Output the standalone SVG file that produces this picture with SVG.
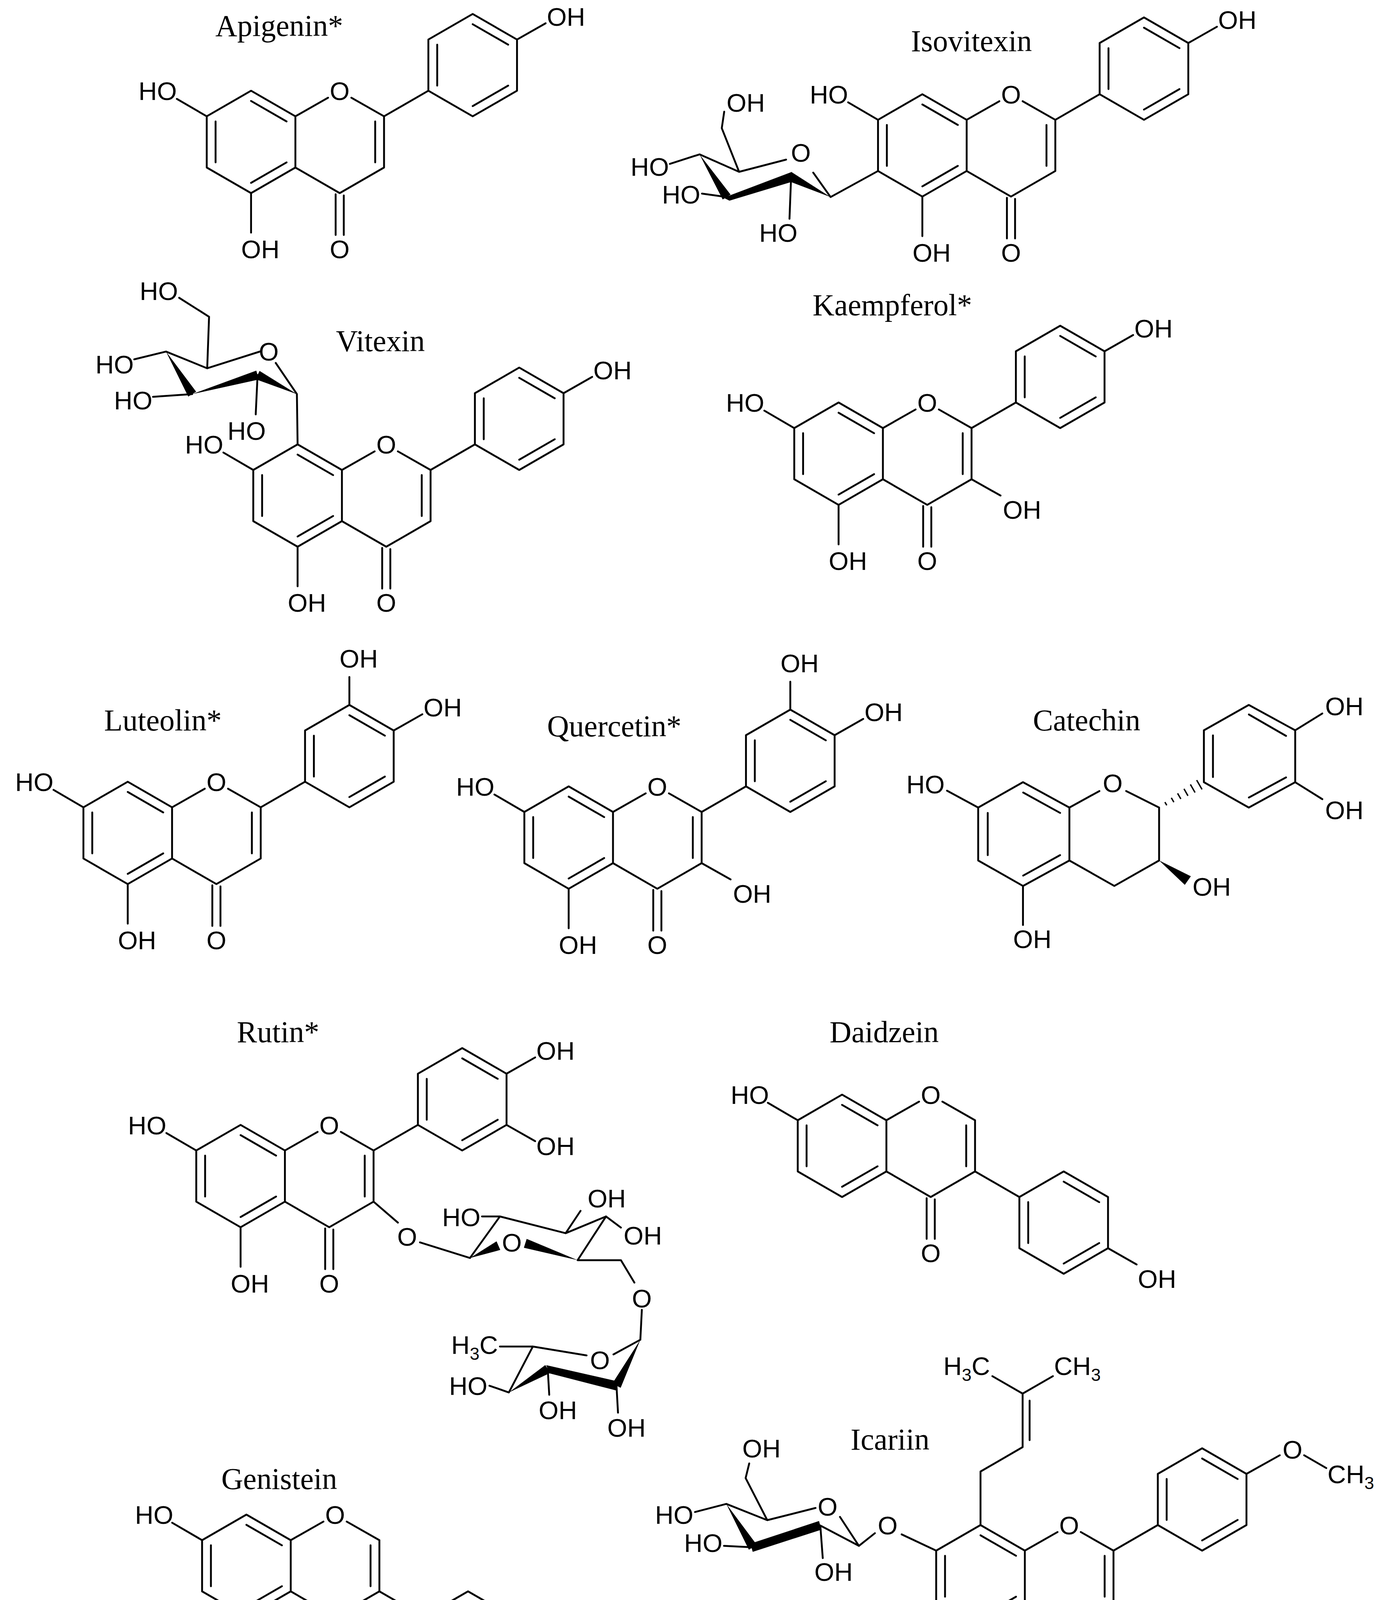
<svg xmlns="http://www.w3.org/2000/svg" xmlns:xlink="http://www.w3.org/1999/xlink" width="3535" height="4688" viewBox="0 0 3535 4688">
<style>
.b{fill:none;stroke:#000;stroke-width:1.6;stroke-linecap:round;stroke-linejoin:round}
.h{fill:none;stroke:#000;stroke-width:1.2}
.w{fill:#000;stroke:none}
.t{font-family:"Liberation Sans",Arial,sans-serif;font-size:22px;fill:#000}
.m{text-anchor:middle}
.e{text-anchor:end}
.ti{font-family:"Liberation Serif","Times New Roman",serif;font-size:26px;text-anchor:middle;fill:#000}
</style>
<defs>
<path id="core" class="b" d="M-76.2,-44 L-38.1,-22 L-38.1,22 L-76.2,44 L-114.3,22 L-114.3,-22 Z M-38.1,-22 L-10,-38 M10,-38 L38.1,-22 L38.1,22 L0,44 L-38.1,22 M-106.7,-17.6 L-106.7,17.6 M-76.2,-35.2 L-45.7,-17.6 M-45.7,17.6 L-76.2,35.2 M30.5,-17.6 L30.5,17.6 M-3.5,45 L-3.5,80 M3.5,46 L3.5,80"/>
<path id="bf" class="b" d="M38.1,-22 L76.2,-44 M114.3,-110 L152.4,-88 L152.4,-44 L114.3,-22 L76.2,-44 L76.2,-88 Z M83.8,-48.4 L83.8,-83.6 M114.3,-101.2 L144.8,-83.6 M144.8,-48.4 L114.3,-30.8"/>
<path id="bi" class="b" d="M38.1,22 L76.2,44 M114.3,22 L152.4,44 L152.4,88 L114.3,110 L76.2,88 L76.2,44 Z M114.3,30.8 L144.8,48.4 M144.8,83.6 L114.3,101.2 M83.8,83.6 L83.8,48.4"/>
<path id="s5" class="b" d="M-76.2,44 L-76.2,78"/>
<path id="s7" class="b" d="M-114.3,-22 L-140,-37"/>
<path id="s4p" class="b" d="M152.4,-88 L177,-102"/>
<path id="s3p" class="b" d="M114.3,-110 L114.3,-134"/>
<path id="s3" class="b" d="M38.1,22 L63,36"/>
<path id="slr" class="b" d="M152.4,-44 L177,-30"/>
<path id="si4" class="b" d="M152.4,88 L177,102"/>
</defs>
<rect width="3535" height="4688" fill="#fff"/>
<g transform="scale(2.978)">

<g id="apigenin">
<use href="#core" transform="translate(292,122)"/><use href="#bf" transform="translate(292,122)"/>
<use href="#s5" transform="translate(292,122)"/><use href="#s7" transform="translate(292,122)"/><use href="#s4p" transform="translate(292,122)"/>
<text class="ti" x="240" y="31">Apigenin*</text>
<text class="t m" x="292" y="86">O</text><text class="t m" x="292" y="222">O</text>
<text class="t" x="207.3" y="222">OH</text><text class="t e" x="152" y="86">HO</text><text class="t" x="470" y="22">OH</text>
</g>

<g id="isovitexin">
<use href="#core" transform="translate(869,125)"/><use href="#bf" transform="translate(869,125)"/>
<use href="#s5" transform="translate(869,125)"/><use href="#s7" transform="translate(869,125)"/><use href="#s4p" transform="translate(869,125)"/>
<text class="ti" x="835" y="44">Isovitexin</text>
<text class="t m" x="869" y="89">O</text><text class="t m" x="869" y="225">O</text>
<text class="t" x="784.3" y="225">OH</text><text class="t e" x="729" y="89">HO</text><text class="t" x="1047" y="25">OH</text>
<path class="b" d="M754.7,147 L713.9,169.4 L699,148.4 M675.7,137.2 L635.3,147.7 L620.4,110.2 L622.5,96 M635.3,147.7 L601.3,132.7 L575.8,140.9 M624.6,169.4 L603.4,166.4 M680,152.1 L678.6,188.1"/>
<polygon class="w" points="601.3,132.7 628,167.3 621.2,171.5"/>
<polygon class="w" points="622,170 680,148 680,156.5 627,172.5"/>
<polygon class="w" points="680,147.7 680,156.5 713.9,169.4"/>
<text class="t" x="624.5" y="96">OH</text><text class="t m" x="688.4" y="139">O</text>
<text class="t e" x="575" y="151">HO</text><text class="t e" x="602" y="175">HO</text><text class="t m" x="669" y="208">HO</text>
</g>

<g id="vitexin">
<use href="#core" transform="translate(332,426)"/><use href="#bf" transform="translate(332,426)"/>
<use href="#s5" transform="translate(332,426)"/><use href="#s7" transform="translate(332,426)"/><use href="#s4p" transform="translate(332,426)"/>
<text class="ti" x="327" y="302">Vitexin</text>
<text class="t m" x="332" y="390">O</text><text class="t m" x="332" y="526">O</text>
<text class="t" x="247.3" y="526">OH</text><text class="t e" x="192" y="390">HO</text><text class="t" x="510" y="326">OH</text>
<path class="b" d="M255.8,382 L255.2,338.8 L237,312 M224,302 L178.1,316.6 L179.7,272.3 L154,256 M178.1,316.6 L142.7,302.2 L115.4,308.9 M165.2,338.8 L131.5,341.1 M221.4,322.4 L219.8,356.2"/>
<polygon class="w" points="142.7,302.2 168.6,336.7 161.8,340.9"/>
<polygon class="w" points="165.2,338.8 222.5,326.2 220.3,318.6"/>
<polygon class="w" points="255.2,338.8 219.7,326 223.1,318.8"/>
<text class="t e" x="153" y="258">HO</text><text class="t m" x="231" y="310">O</text>
<text class="t e" x="115" y="321">HO</text><text class="t e" x="131" y="352">HO</text><text class="t m" x="212" y="378">HO</text>
</g>

<g id="kaempferol">
<use href="#core" transform="translate(797,390)"/><use href="#bf" transform="translate(797,390)"/>
<use href="#s5" transform="translate(797,390)"/><use href="#s7" transform="translate(797,390)"/><use href="#s4p" transform="translate(797,390)"/><use href="#s3" transform="translate(797,390)"/>
<text class="ti" x="767" y="271">Kaempferol*</text>
<text class="t m" x="797" y="354">O</text><text class="t m" x="797" y="490">O</text>
<text class="t" x="712.3" y="490">OH</text><text class="t e" x="657" y="354">HO</text><text class="t" x="975" y="290">OH</text><text class="t" x="862" y="446">OH</text>
</g>

<g id="luteolin">
<use href="#core" transform="translate(186,716)"/><use href="#bf" transform="translate(186,716)"/>
<use href="#s5" transform="translate(186,716)"/><use href="#s7" transform="translate(186,716)"/><use href="#s4p" transform="translate(186,716)"/><use href="#s3p" transform="translate(186,716)"/>
<text class="ti" x="140" y="628">Luteolin*</text>
<text class="t m" x="186" y="680">O</text><text class="t m" x="186" y="816">O</text>
<text class="t" x="101.3" y="816">OH</text><text class="t e" x="46" y="680">HO</text><text class="t" x="364" y="616">OH</text><text class="t" x="291.8" y="574">OH</text>
</g>

<g id="quercetin">
<use href="#core" transform="translate(565,720)"/><use href="#bf" transform="translate(565,720)"/>
<use href="#s5" transform="translate(565,720)"/><use href="#s7" transform="translate(565,720)"/><use href="#s4p" transform="translate(565,720)"/><use href="#s3p" transform="translate(565,720)"/><use href="#s3" transform="translate(565,720)"/>
<text class="ti" x="528" y="633">Quercetin*</text>
<text class="t m" x="565" y="684">O</text><text class="t m" x="565" y="820">O</text>
<text class="t" x="480.3" y="820">OH</text><text class="t e" x="425" y="684">HO</text><text class="t" x="743" y="620">OH</text><text class="t" x="670.8" y="578">OH</text><text class="t" x="630" y="776">OH</text>
</g>

<g id="catechin">
<text class="ti" x="934" y="628">Catechin</text>
<path class="b" d="M879.3,672.4 L919.2,694.2 L919.2,739.7 L879.3,761.6 L840.8,739.7 L840.8,694.2 Z M919.2,694.2 L945,680 M968,680 L996.3,694.2 L996.3,739.7 L957.8,761.6 L919.2,739.7 M879.5,681.3 L911.2,698.8 M849,698.8 L849,735.1 M911.2,735.1 L879.5,752.7 M1034.8,672.4 L1034.8,627.8 L1073.4,606 L1113.3,627.8 L1113.3,672.4 L1073.4,694.2 Z M1042.6,632.2 L1042.6,668 M1073.5,614.2 L1105.4,632.6 M1105.4,668.3 L1073.5,685.6 M1113.3,627.8 L1136.6,613.3 M1113.3,672.4 L1136.6,687 M879.3,761.6 L879.3,795.2 M840.8,694.2 L814,679.7"/>
<path class="h" d="M1001.3,689.5 L1002.9,692.3 M1006.8,685.8 L1009,689.6 M1012.2,682 L1015,686.8 M1017.7,678.1 L1021.1,684.1 M1023.2,674.3 L1027.2,681.3 M1028.6,670.6 L1033.2,678.6"/>
<polygon class="w" points="996.3,739.7 1018.4,760.7 1023.6,753.3"/>
<text class="t m" x="956.4" y="681">O</text><text class="t e" x="812" y="682">HO</text><text class="t" x="870.8" y="815">OH</text>
<text class="t" x="1025" y="770">OH</text><text class="t" x="1139" y="615">OH</text><text class="t" x="1139" y="704">OH</text>
</g>

<g id="rutin">
<use href="#core" transform="translate(283,1011)"/><use href="#bf" transform="translate(283,1011)"/>
<use href="#s5" transform="translate(283,1011)"/><use href="#s7" transform="translate(283,1011)"/><use href="#s4p" transform="translate(283,1011)"/><use href="#slr" transform="translate(283,1011)"/>
<text class="ti" x="239" y="896">Rutin*</text>
<text class="t m" x="283" y="975">O</text><text class="t m" x="283" y="1111">O</text>
<text class="t" x="198.3" y="1111">OH</text><text class="t e" x="143" y="975">HO</text><text class="t" x="461" y="911">OH</text><text class="t" x="461" y="993">OH</text>
<path class="b" d="M321.1,1033 L342,1051 M361,1068 L404,1081.4 M496.5,1083.3 L520.9,1045.7 L486.2,1060.1 L429.7,1045.7 L404,1081.4 M429.7,1045.7 L414.3,1045.7 M486.2,1060.1 L499,1040.9 M520.9,1045.7 L533.7,1055.3 M496.5,1083.3 L533.7,1083.3 L545.3,1102.6 M551.7,1126 L550.4,1151.7 L527.3,1164.3 M504.2,1165.2 L458,1157.5 L429.7,1157.5 M458,1157.5 L437.4,1197 L420.7,1191.2 M470.8,1176.8 L472.1,1199 M529.9,1191.2 L531.2,1214.4"/>
<polygon class="w" points="404,1081.4 430,1074.5 426.8,1067.1"/>
<polygon class="w" points="450.3,1072.6 452.7,1065 496.5,1083.3"/>
<polygon class="w" points="437.4,1197 472.9,1180.2 468.7,1173.4"/>
<polygon class="w" points="469.5,1173.5 472,1180.5 530.5,1195.5 529,1187"/>
<polygon class="w" points="550.4,1151.7 533.5,1193 526.3,1189.4"/>
<text class="t m" x="350" y="1071">O</text><text class="t m" x="440" y="1076">O</text>
<text class="t e" x="413" y="1054">HO</text><text class="t" x="505" y="1038">OH</text><text class="t" x="536" y="1070">OH</text>
<text class="t m" x="551.7" y="1124">O</text><text class="t m" x="515.7" y="1177">O</text>
<text class="t e" x="428" y="1164">H<tspan font-size="15" dy="5">3</tspan><tspan dy="-5">C</tspan></text>
<text class="t e" x="419" y="1199">HO</text><text class="t" x="463" y="1220">OH</text><text class="t" x="522" y="1235">OH</text>
</g>

<g id="daidzein">
<use href="#core" transform="translate(800,985)"/><use href="#bi" transform="translate(800,985)"/>
<use href="#s7" transform="translate(800,985)"/><use href="#si4" transform="translate(800,985)"/>
<text class="ti" x="760" y="896">Daidzein</text>
<text class="t m" x="800" y="949">O</text><text class="t m" x="800" y="1085">O</text>
<text class="t e" x="661" y="949">HO</text><text class="t" x="978" y="1107">OH</text>
</g>

<g id="genistein">
<use href="#core" transform="translate(288,1346)"/><use href="#bi" transform="translate(288,1346)"/>
<use href="#s5" transform="translate(288,1346)"/><use href="#s7" transform="translate(288,1346)"/><use href="#si4" transform="translate(288,1346)"/>
<text class="ti" x="240" y="1280">Genistein</text>
<text class="t m" x="288" y="1310">O</text><text class="t m" x="288" y="1446">O</text>
<text class="t" x="203.3" y="1446">OH</text><text class="t e" x="149" y="1310">HO</text><text class="t" x="466" y="1468">OH</text>
</g>

<g id="icariin">
<use href="#core" transform="translate(919,1355)"/><use href="#bf" transform="translate(919,1355)"/>
<use href="#s5" transform="translate(919,1355)"/>
<text class="ti" x="765" y="1246">Icariin</text>
<text class="t m" x="919" y="1319">O</text><text class="t m" x="919" y="1455">O</text>
<text class="t" x="834.3" y="1455">OH</text>
<path class="b" d="M1071.4,1267 L1100,1251 M1121,1251 L1140,1262 M842.8,1311 L842.8,1265 L879,1244 L879,1198 M885,1238 L885,1204 M879,1198 L853,1183 M879,1198 L905,1183 M957.1,1377 L989,1398 M996,1419 L993.1,1464 L955,1489 M937,1490 L899.9,1489.7 L868.8,1485 M899.9,1489.7 L881.3,1528.1 L864.7,1524.6 M914.4,1509.5 L914.4,1532.8 M972.4,1523.4 L974.5,1549 M804.7,1333 L775,1319 M752,1318 L738.3,1328.9 L722,1304 M701,1296.3 L659.5,1306.8 L640.9,1270.6 L644,1258 M659.5,1306.8 L624.3,1292.8 L597.4,1299.8 M647.1,1330.1 L622.3,1328.9 M705.1,1311.4 L738.3,1328.9 M705.1,1311.4 L707.2,1339.4"/>
<polygon class="w" points="881.3,1528.1 916.4,1513 912.4,1506"/>
<polygon class="w" points="913,1506 916,1513 972.4,1527.5 972.4,1519"/>
<polygon class="w" points="993.1,1464 976.2,1524.7 968.6,1522.1"/>
<polygon class="w" points="624.3,1292.8 650.5,1328 643.7,1332.2"/>
<polygon class="w" points="645,1327 647,1334 706,1315 704,1307.5"/>
<text class="t m" x="1111" y="1254">O</text>
<text class="t" x="1141" y="1275">CH<tspan font-size="15" dy="5">3</tspan></text>
<text class="t e" x="851" y="1182">H<tspan font-size="15" dy="5">3</tspan><tspan dy="-5">C</tspan></text>
<text class="t" x="906" y="1182">CH<tspan font-size="15" dy="5">3</tspan></text>
<text class="t m" x="997" y="1417">O</text><text class="t m" x="945.5" y="1506">O</text>
<text class="t e" x="867" y="1502">H<tspan font-size="15" dy="5">3</tspan><tspan dy="-5">C</tspan></text>
<text class="t e" x="863" y="1532">HO</text><text class="t" x="906" y="1551">OH</text><text class="t" x="966" y="1570">OH</text>
<text class="t m" x="763" y="1319">O</text><text class="t m" x="711.4" y="1303">O</text>
<text class="t" x="638" y="1253">OH</text><text class="t e" x="596" y="1310">HO</text><text class="t e" x="621" y="1334">HO</text><text class="t" x="700" y="1359">OH</text>
</g>

</g>
</svg>
